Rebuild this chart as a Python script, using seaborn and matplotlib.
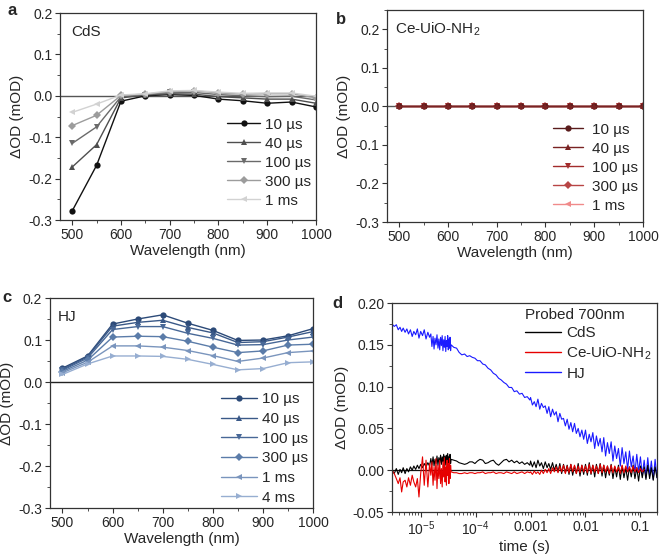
#!/usr/bin/env python3
"""Transient absorption spectra (a-c) and 700 nm kinetics (d) for CdS, Ce-UiO-NH2 and HJ."""

import numpy as np
import pandas as pd
import matplotlib

matplotlib.use("Agg")
import matplotlib.pyplot as plt
import seaborn as sns
from matplotlib.ticker import MultipleLocator, LogLocator, NullFormatter, FormatStrFormatter

# ---------------------------------------------------------------- spectra data
WAVELENGTH = [500, 550, 600, 650, 700, 750, 800, 850, 900, 950, 1000]

CDS_DELAYS = ["10 µs", "40 µs", "100 µs", "300 µs", "1 ms"]
CDS_10US = [-0.278, -0.168, -0.013, 0.000, 0.003, 0.001, -0.008, -0.012, -0.018, -0.015, -0.027]
CDS_40US = [-0.172, -0.118, -0.005, 0.002, 0.005, 0.004, -0.002, -0.005, -0.008, -0.008, -0.018]
CDS_100US = [-0.115, -0.075, -0.002, 0.003, 0.008, 0.008, 0.003, 0.000, -0.002, -0.001, -0.010]
CDS_300US = [-0.072, -0.047, 0.001, 0.004, 0.010, 0.012, 0.007, 0.004, 0.005, 0.005, -0.005]
CDS_1MS = [-0.040, -0.020, 0.002, 0.005, 0.012, 0.013, 0.009, 0.006, 0.007, 0.007, -0.001]

CEUIO_DELAYS = ["10 µs", "40 µs", "100 µs", "300 µs", "1 ms"]
CEUIO_10US = [0.0, 0.0, 0.0, 0.0, 0.0, 0.0, 0.0, 0.0, 0.0, 0.0, 0.0]
CEUIO_40US = [0.0, 0.0, 0.0, 0.0, 0.0, 0.0, 0.0, 0.0, 0.0, 0.0, 0.0]
CEUIO_100US = [0.0, 0.0, 0.0, 0.0, 0.0, 0.0, 0.0, 0.0, 0.0, 0.0, 0.0]
CEUIO_300US = [0.0, 0.0, 0.0, 0.0, 0.0, 0.0, 0.0, 0.0, 0.0, 0.0, 0.0]
CEUIO_1MS = [0.0, 0.0, 0.0, 0.0, 0.0, 0.0, 0.0, 0.0, 0.0, 0.0, 0.0]

HJ_DELAYS = ["10 µs", "40 µs", "100 µs", "300 µs", "1 ms", "4 ms"]
HJ_10US = [0.033, 0.062, 0.138, 0.150, 0.160, 0.140, 0.123, 0.099, 0.100, 0.110, 0.127]
HJ_40US = [0.030, 0.060, 0.133, 0.142, 0.147, 0.130, 0.117, 0.094, 0.096, 0.107, 0.120]
HJ_100US = [0.028, 0.057, 0.125, 0.132, 0.132, 0.116, 0.104, 0.088, 0.089, 0.100, 0.107]
HJ_300US = [0.025, 0.052, 0.107, 0.109, 0.108, 0.097, 0.083, 0.070, 0.074, 0.088, 0.090]
HJ_1MS = [0.022, 0.047, 0.086, 0.086, 0.083, 0.075, 0.063, 0.049, 0.057, 0.070, 0.074]
HJ_4MS = [0.018, 0.043, 0.062, 0.062, 0.061, 0.054, 0.042, 0.029, 0.032, 0.046, 0.048]

# ---------------------------------------------------------------- kinetics data (700 nm)
TIME_S = [
    3.0e-6, 3.3e-6, 3.6e-6, 3.9e-6, 4.2e-6, 4.5e-6, 4.8e-6, 5.2e-6, 5.6e-6, 6.0e-6, 6.5e-6,
    7.0e-6, 7.5e-6, 8.1e-6, 8.7e-6, 9.3e-6, 1.00e-5, 1.08e-5, 1.16e-5, 1.25e-5, 1.35e-5, 1.45e-5,
    1.53e-5, 1.60e-5, 1.68e-5, 1.75e-5, 1.82e-5, 1.90e-5, 1.98e-5, 2.06e-5, 2.14e-5, 2.22e-5,
    2.30e-5, 2.38e-5, 2.46e-5, 2.54e-5, 2.62e-5, 2.70e-5, 2.78e-5, 2.86e-5, 2.94e-5, 3.02e-5,
    3.10e-5, 3.18e-5, 3.26e-5, 3.34e-5, 3.42e-5, 3.50e-5, 3.58e-5,
    4.0e-5, 4.5e-5, 5.0e-5, 5.6e-5, 6.3e-5, 7.0e-5, 7.8e-5, 8.7e-5, 9.7e-5, 1.08e-4,
    1.20e-4, 1.35e-4, 1.50e-4, 1.68e-4, 1.88e-4, 2.10e-4, 2.35e-4, 2.62e-4, 2.92e-4, 3.26e-4,
    3.64e-4, 4.06e-4, 4.53e-4, 5.05e-4, 5.63e-4, 6.28e-4, 7.00e-4, 7.80e-4, 8.70e-4, 9.70e-4,
    1.00e-3, 1.08e-3, 1.17e-3, 1.26e-3, 1.36e-3, 1.47e-3, 1.58e-3, 1.71e-3, 1.85e-3, 2.00e-3,
    2.15e-3, 2.32e-3, 2.51e-3, 2.71e-3, 2.93e-3, 3.16e-3, 3.41e-3, 3.68e-3, 3.98e-3, 4.30e-3,
    4.64e-3, 5.01e-3, 5.41e-3, 5.84e-3, 6.31e-3, 6.81e-3, 7.36e-3, 7.94e-3, 8.58e-3, 9.26e-3,
    1.00e-2, 1.08e-2, 1.17e-2, 1.26e-2, 1.36e-2, 1.47e-2, 1.58e-2, 1.71e-2, 1.85e-2, 2.00e-2,
    2.15e-2, 2.32e-2, 2.51e-2, 2.71e-2, 2.93e-2, 3.16e-2, 3.41e-2, 3.68e-2, 3.98e-2, 4.30e-2,
    4.64e-2, 5.01e-2, 5.41e-2, 5.84e-2, 6.31e-2, 6.81e-2, 7.36e-2, 7.94e-2, 8.58e-2, 9.26e-2,
    0.100, 0.108, 0.117, 0.126, 0.136, 0.147, 0.158, 0.171, 0.185, 0.200,
]

KIN_CDS = [
    0.000, -0.004, 0.002, -0.005, 0.001, -0.003, 0.003, -0.004, 0.002, -0.002, 0.004,
    0.000, 0.005, 0.001, 0.006, 0.002, 0.007, 0.003, 0.008, 0.004, 0.009, 0.005,
    0.014, 0.006, 0.016, 0.005, 0.013, 0.008, 0.017, 0.006, 0.015, 0.009,
    0.018, 0.007, 0.016, 0.010, 0.019, 0.008, 0.017, 0.006, 0.018, 0.009,
    0.020, 0.007, 0.016, 0.010, 0.019, 0.008, 0.013,
    0.012, 0.011, 0.009, 0.008, 0.007, 0.008, 0.010, 0.010, 0.008, 0.011,
    0.013, 0.012, 0.008, 0.009, 0.011, 0.012, 0.008, 0.006, 0.009, 0.012,
    0.013, 0.010, 0.012, 0.009, 0.011, 0.008, 0.010, 0.007, 0.009, 0.006,
    0.011, 0.004, 0.010, 0.003, 0.012, 0.005, 0.009, 0.002, 0.010, 0.003,
    0.008, 0.001, 0.009, 0.000, 0.007, -0.002, 0.008, -0.004, 0.007, -0.003,
    0.006, -0.005, 0.007, -0.006, 0.005, -0.004, 0.008, -0.007, 0.006, -0.005,
    0.007, -0.006, 0.009, -0.005, 0.006, -0.008, 0.007, -0.004, 0.008, -0.007,
    0.006, -0.009, 0.005, -0.006, 0.007, -0.010, 0.004, -0.008, 0.006, -0.011,
    0.005, -0.009, 0.003, -0.012, 0.004, -0.008, 0.006, -0.010, 0.003, -0.013,
    0.005, -0.009, 0.004, -0.011, 0.006, -0.010, 0.003, -0.012, 0.004, -0.009,
]

KIN_CEUIO = [
    0.000, -0.004, -0.010, -0.016, -0.009, -0.026, -0.014, -0.012, -0.020, -0.009, -0.018,
    -0.006, -0.014, -0.020, -0.010, -0.032, -0.004, 0.016, -0.018, 0.012, -0.020, 0.008,
    -0.006, 0.010, -0.018, 0.004, -0.012, 0.014, -0.022, 0.006, -0.010, 0.012,
    -0.016, 0.002, -0.020, 0.010, -0.008, 0.015, -0.014, 0.004, -0.018, 0.012,
    -0.006, 0.008, -0.016, 0.014, -0.010, 0.006, -0.002,
    -0.003, -0.003, -0.004, -0.004, -0.003, -0.004, -0.003, -0.003, -0.004, -0.003,
    -0.003, -0.002, -0.004, -0.003, -0.003, -0.002, -0.004, -0.003, -0.003, -0.004,
    -0.002, -0.003, -0.004, -0.002, -0.004, -0.003, -0.002, -0.004, -0.002, -0.003,
    -0.002, -0.005, -0.001, -0.004, -0.002, -0.005, 0.000, -0.004, 0.001, -0.003,
    0.002, -0.004, 0.003, -0.002, 0.004, -0.003, 0.005, -0.002, 0.006, -0.004,
    0.005, -0.003, 0.007, -0.002, 0.006, -0.004, 0.005, -0.003, 0.006, -0.002,
    0.005, -0.003, 0.007, -0.004, 0.006, -0.002, 0.005, -0.004, 0.007, -0.003,
    0.006, -0.002, 0.005, -0.004, 0.006, -0.003, 0.005, -0.002, 0.004, -0.004,
    0.006, -0.003, 0.005, -0.002, 0.004, -0.003, 0.005, -0.002, 0.003, -0.003,
    0.002, -0.002, 0.001, np.nan, np.nan, np.nan, np.nan, np.nan, np.nan, np.nan,
]

KIN_HJ = [
    0.175, 0.172, 0.174, 0.168, 0.171, 0.166, 0.170, 0.165, 0.169, 0.163, 0.168,
    0.160, 0.166, 0.162, 0.169, 0.158, 0.166, 0.161, 0.168, 0.157, 0.165, 0.159,
    0.163, 0.148, 0.160, 0.145, 0.158, 0.150, 0.162, 0.146, 0.157, 0.144,
    0.159, 0.149, 0.161, 0.143, 0.156, 0.147, 0.160, 0.142, 0.155, 0.148,
    0.161, 0.144, 0.157, 0.146, 0.159, 0.143, 0.150,
    0.147, 0.146, 0.141, 0.138, 0.139, 0.136, 0.137, 0.135, 0.134, 0.131,
    0.131, 0.127, 0.126, 0.122, 0.120, 0.116, 0.114, 0.110, 0.108, 0.105,
    0.103, 0.099, 0.099, 0.094, 0.095, 0.091, 0.092, 0.087, 0.088, 0.084,
    0.087, 0.078, 0.082, 0.076, 0.085, 0.073, 0.080, 0.075, 0.077, 0.068,
    0.076, 0.064, 0.073, 0.066, 0.070, 0.058, 0.068, 0.061, 0.062, 0.053,
    0.061, 0.049, 0.057, 0.046, 0.056, 0.044, 0.050, 0.040, 0.048, 0.037,
    0.048, 0.032, 0.043, 0.034, 0.045, 0.026, 0.041, 0.029, 0.038, 0.022,
    0.039, 0.017, 0.033, 0.020, 0.034, 0.011, 0.029, 0.014, 0.026, 0.005,
    0.027, 0.008, 0.022, 0.001, 0.023, 0.004, 0.017, -0.003, 0.019, -0.002,
    0.016, -0.006, 0.012, -0.009, 0.015, -0.007, 0.011, -0.011, 0.013, -0.009,
]

KIN_SAMPLES = ["CdS", "Ce-UiO-NH$_2$", "HJ"]


def spectra_frame(delays, series):
    rows = []
    for label, values in zip(delays, series):
        for wl, val in zip(WAVELENGTH, values):
            rows.append({"wavelength": wl, "dOD": val, "delay": label})
    return pd.DataFrame(rows)


def style_axis(ax):
    for side in ("top", "right", "left", "bottom"):
        ax.spines[side].set_visible(True)
        ax.spines[side].set_color("#333333")
        ax.spines[side].set_linewidth(0.9)
    ax.tick_params(which="major", direction="out", length=3.5, width=0.8,
                   color="#333333", labelsize=10, pad=2)
    ax.tick_params(which="minor", direction="out", length=2, width=0.6, color="#333333")


def draw_spectra(ax, delays, series, palette, markers, title, title_x=0.045, draw_order=None,
                 legend_anchor=(1.0, 0.0), handlelength=2.2, handletextpad=0.33,
                 labelspacing=0.33, zero_color="#555555"):
    df = spectra_frame(delays, series)
    order = draw_order if draw_order is not None else delays
    ax.axhline(0, color=zero_color, lw=1.0, zorder=1)
    sns.lineplot(
        data=df, x="wavelength", y="dOD", hue="delay", style="delay",
        hue_order=order, style_order=order,
        palette=[palette[delays.index(d)] for d in order],
        markers=[markers[delays.index(d)] for d in order],
        dashes=False, markersize=4.5, markeredgewidth=0, linewidth=1.0,
        ax=ax,
    )
    handles, labels = ax.get_legend_handles_labels()
    lookup = dict(zip(labels, handles))
    ax.legend(
        [lookup[d] for d in delays], delays,
        loc="lower right", bbox_to_anchor=legend_anchor, frameon=False,
        fontsize=11, handlelength=handlelength, handletextpad=handletextpad,
        labelspacing=labelspacing, borderpad=0.2, borderaxespad=0.1,
    )
    ax.set_xlim(475, 1000)
    ax.set_ylim(-0.3, 0.2)
    ax.xaxis.set_major_locator(MultipleLocator(100))
    ax.xaxis.set_minor_locator(MultipleLocator(50))
    ax.yaxis.set_major_locator(MultipleLocator(0.1))
    ax.yaxis.set_minor_locator(MultipleLocator(0.05))
    ax.yaxis.set_major_formatter(FormatStrFormatter("%.1f"))
    ax.set_xlabel("Wavelength (nm)", fontsize=11, labelpad=2)
    ax.set_ylabel("ΔOD (mOD)", fontsize=11, labelpad=3)
    ax.text(title_x, 0.91, title, transform=ax.transAxes, fontsize=11, ha="left", va="center")
    style_axis(ax)


def main():
    sns.set_theme(style="ticks")
    plt.rcParams["font.family"] = ["Liberation Sans", "DejaVu Sans"]
    plt.rcParams["mathtext.fontset"] = "custom"
    plt.rcParams["mathtext.rm"] = "Liberation Sans"
    plt.rcParams["mathtext.it"] = "Liberation Sans:italic"
    plt.rcParams["axes.unicode_minus"] = False

    fig = plt.figure(figsize=(6.61, 5.56), dpi=100)
    ax_a = fig.add_axes([0.0908, 0.6043, 0.3873, 0.3723])
    ax_b = fig.add_axes([0.5855, 0.6007, 0.3873, 0.3813])
    ax_c = fig.add_axes([0.0756, 0.0863, 0.3979, 0.3777])
    ax_d = fig.add_axes([0.5930, 0.0791, 0.4009, 0.3759])

    # (a) CdS
    draw_spectra(
        ax_a, CDS_DELAYS, [CDS_10US, CDS_40US, CDS_100US, CDS_300US, CDS_1MS],
        ["#111111", "#4f4f4f", "#6a6a6a", "#9c9c9c", "#d2d2d2"],
        ["o", "^", "v", "D", "<"], "CdS", legend_anchor=(1.0, 0.037),
    )

    # (b) Ce-UiO-NH2, all delays sit on zero
    draw_spectra(
        ax_b, CEUIO_DELAYS, [CEUIO_10US, CEUIO_40US, CEUIO_100US, CEUIO_300US, CEUIO_1MS],
        ["#5a1c1c", "#7a2323", "#a32c2c", "#b84545", "#f08a8a"],
        ["o", "^", "v", "D", "<"], "Ce-UiO-NH$_2$", title_x=0.031,
        draw_order=["1 ms", "300 µs", "100 µs", "10 µs", "40 µs"],
        legend_anchor=(1.0, 0.022), handlelength=2.0, handletextpad=0.6,
    )
    ax_b.set_ylim(-0.3, 0.25)

    # (c) HJ
    draw_spectra(
        ax_c, HJ_DELAYS, [HJ_10US, HJ_40US, HJ_100US, HJ_300US, HJ_1MS, HJ_4MS],
        ["#2c4a78", "#3a5988", "#486897", "#5b7ca9", "#7a95bd", "#97aed1"],
        ["o", "^", "v", "D", "<", ">"], "HJ", title_x=0.03,
        legend_anchor=(1.0, -0.006), handlelength=2.35, labelspacing=0.37,
        zero_color="#222222",
    )

    # (d) kinetics probed at 700 nm
    kin = pd.concat([
        pd.DataFrame({"time": TIME_S, "dOD": vals, "sample": name})
        for name, vals in zip(KIN_SAMPLES, [KIN_CDS, KIN_CEUIO, KIN_HJ])
    ], ignore_index=True)
    ax_d.axhline(0, color="#111111", lw=0.9, zorder=1)
    sns.lineplot(
        data=kin, x="time", y="dOD", hue="sample",
        hue_order=["HJ", "CdS", "Ce-UiO-NH$_2$"],
        palette=["#1a1aff", "#000000", "#e60000"],
        estimator=None, sort=False, linewidth=0.8, ax=ax_d,
    )
    handles, labels = ax_d.get_legend_handles_labels()
    lookup = dict(zip(labels, handles))
    leg = ax_d.legend(
        [lookup[s] for s in KIN_SAMPLES], KIN_SAMPLES, title="Probed 700nm",
        loc="upper right", bbox_to_anchor=(0.992, 0.993), frameon=False, fontsize=11,
        title_fontsize=11, handlelength=2.35, handletextpad=0.33, labelspacing=0.3,
        borderpad=0.1, borderaxespad=0.1,
    )
    leg._legend_box.align = "left"
    for line in leg.get_lines():
        line.set_linewidth(1.0)
    ax_d.set_xscale("log")
    ax_d.set_xlim(3e-6, 0.2)
    ax_d.set_ylim(-0.05, 0.20)
    ax_d.set_xticks([1e-5, 1e-4, 1e-3, 1e-2, 1e-1],
                    [r"$10^{-5}$", r"$10^{-4}$", "0.001", "0.01", "0.1"])
    ax_d.xaxis.set_minor_locator(LogLocator(base=10, subs=np.arange(2, 10), numticks=20))
    ax_d.xaxis.set_minor_formatter(NullFormatter())
    ax_d.yaxis.set_major_locator(MultipleLocator(0.05))
    ax_d.yaxis.set_minor_locator(MultipleLocator(0.025))
    ax_d.yaxis.set_major_formatter(FormatStrFormatter("%.2f"))
    ax_d.set_xlabel("time (s)", fontsize=11, labelpad=1)
    ax_d.set_ylabel("ΔOD (mOD)", fontsize=11, labelpad=3)
    style_axis(ax_d)

    for label, (x, y) in zip("abcd", [(0.012, 0.995), (0.508, 0.979), (0.004, 0.478), (0.503, 0.468)]):
        fig.text(x, y, label, fontsize=12, fontweight="bold", ha="left", va="top")

    fig.savefig("out.png", dpi=100)
    plt.close(fig)


if __name__ == "__main__":
    main()
